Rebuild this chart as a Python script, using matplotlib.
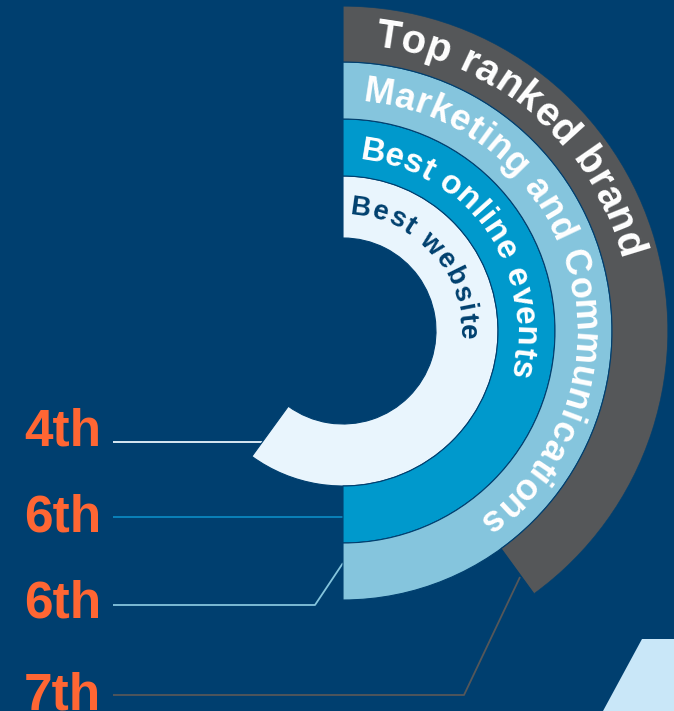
import numpy as np
import matplotlib
matplotlib.use("Agg")
import matplotlib.pyplot as plt
from matplotlib import ft2font, font_manager
from matplotlib.font_manager import FontProperties
from matplotlib.patches import Polygon

# ---------------- data ----------------
categories = ["Best website", "Best online events",
              "Marketing and Communications", "Top ranked brand"]
ranks = ["4th", "6th", "6th", "7th"]
arc_share = [0.60, 0.50, 0.50, 0.40]   # fraction of the full circle

# ---------------- style / layout ----------------
W, H = 674, 711
BG = "#003f6f"
ORANGE = "#ff6633"
ring_colors = ["#e9f5fd", "#0099cc", "#85c5dd", "#555759"]
text_colors = ["#00406e", "white", "white", "white"]
line_colors = ["#e9f5fd", "#0a86bf", "#85c5dd", "#555759"]
ring_inner = [93, 155, 212, 269]
ring_outer = [155, 212, 269, 325]
text_r = [124, 181, 240, 297]
text_span = [(7.9, 90.5), (9.4, 102.0), (8.7, 142.0), (8.7, 73.0)]
text_fs = [20, 24, 26, 29]
CX, CY = 343, 331
R = 325
FONT = "Liberation Sans"

label_x = 24
label_baseline = [445, 532, 617, 709]
line_x0 = 113
# bend / end points of leader lines (pixel layout)
line_paths = [
    [(line_x0, 442), (275, 442)],
    [(line_x0, 517), (343, 517)],
    [(line_x0, 605), (315, 605), (343, 563)],
    [(line_x0, 695), (464, 695), (520, 577)],
]

fig = plt.figure(figsize=(W / 100, H / 100), dpi=100, facecolor=BG)

# overlay in pixel coordinates
ov = fig.add_axes([0, 0, 1, 1])
ov.set_xlim(0, W)
ov.set_ylim(H, 0)
ov.axis("off")
ov.set_facecolor(BG)

for path, col in zip(line_paths, line_colors):
    xs, ys = zip(*path)
    ov.plot(xs, ys, color=col, lw=1.3, solid_capstyle="butt", zorder=1)

for txt, yb in zip(ranks, label_baseline):
    ov.text(label_x, yb, txt, fontsize=37, fontweight="bold", color=ORANGE,
            family=FONT, ha="left", va="baseline")

ov.add_patch(Polygon([(642, 639), (W, 639), (W, H), (603, H)], closed=True,
                     facecolor="#c9e7f8", edgecolor="none"))

# polar axes for rings
pax = fig.add_axes([(CX - R) / W, (H - CY - R) / H, 2 * R / W, 2 * R / H],
                   projection="polar")
pax.set_theta_zero_location("N")
pax.set_theta_direction(-1)
pax.set_ylim(0, R)
pax.axis("off")
pax.patch.set_alpha(0)

for i in range(len(categories)):
    pax.bar(0, ring_outer[i] - ring_inner[i], width=2 * np.pi * arc_share[i],
            bottom=ring_inner[i], align="edge", color=ring_colors[i],
            edgecolor=BG, linewidth=0.8, zorder=2)

# curved text
fpath = font_manager.findfont(FontProperties(family=FONT, weight="bold"))
font = ft2font.FT2Font(fpath)


def advances(s, fs):
    font.set_size(fs, 72)
    out = []
    for ch in s:
        g = font.load_char(ord(ch))
        out.append(g.linearHoriAdvance / 65536.0)
    return np.array(out)


for i, s in enumerate(categories):
    fs = text_fs[i]
    adv = advances(s, fs) + 0.05 * fs
    centers = np.cumsum(adv) - adv / 2
    a0, a1 = text_span[i]
    ang = a0 + (centers - centers[0]) / (centers[-1] - centers[0]) * (a1 - a0)
    for ch, a in zip(s, ang):
        if ch == " ":
            continue
        pax.text(np.deg2rad(a), text_r[i], ch, rotation=-a,
                 rotation_mode="anchor", ha="center", va="center",
                 fontsize=fs, fontweight="bold", family=FONT,
                 color=text_colors[i], zorder=3)

fig.savefig("out.png", dpi=100, facecolor=BG)
